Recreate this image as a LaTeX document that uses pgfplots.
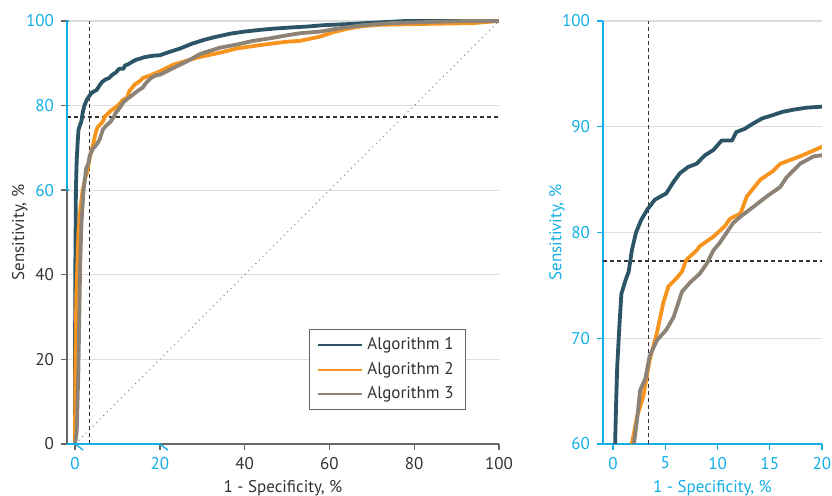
\documentclass[border=0pt]{standalone}
\usepackage{pgfplots}
\pgfplotsset{compat=1.18}
\usepackage{pgfplotstable}
\usepackage{fontspec}
\setmainfont{PT Sans}

\definecolor{algone}{HTML}{2B5466}
\definecolor{algtwo}{HTML}{F7941D}
\definecolor{algthree}{HTML}{8C8276}
\definecolor{cy}{HTML}{12AEE6}
\definecolor{txt}{HTML}{333333}
\definecolor{axgray}{HTML}{666666}
\definecolor{gridgray}{HTML}{DDDDDD}

% ROC curves: x = 1 - specificity (%), y = sensitivity (%)
\pgfplotstableread{
x y
0 0
0 20
0.05 40
0.15 52
0.2 60
0.3 64
0.4 67.3
0.6 71
0.8 74.2
1.2 75.5
1.5 76.3
1.8 78.3
2.2 80
2.7 81.2
3.3 82.2
4.0 83.1
5.1 83.7
5.8 84.8
6.4 85.6
7.2 86.2
8.0 86.5
8.8 87.3
9.6 87.8
10.4 88.7
11.4 88.7
11.8 89.5
12.6 89.8
13.4 90.3
14.3 90.8
15.3 91.1
16.2 91.4
17.2 91.6
18.5 91.8
20 91.9
22 92.6
24.8 93.5
27.5 94.6
30.3 95.5
33 96.2
36.6 97.0
40 97.5
43.6 97.9
47 98.2
51.4 98.5
55 98.7
58.5 99.0
65 99.3
70.3 99.6
78 100
100 100
}\algonetab

\pgfplotstableread{
x y
0 0
0.05 15
0.3 35
0.8 50
1.3 56
1.8 60
2.3 62.6
2.9 64.5
3.5 67.9
4.2 70.5
4.8 73.3
5.3 74.9
6.1 75.7
6.6 76.3
7.0 77.4
8.0 78.3
8.3 78.7
9.6 79.6
10.7 80.6
11.2 81.3
12.2 81.8
12.8 83.4
14.1 85.0
15.3 85.8
16.0 86.5
17.9 87.2
20 88.1
23 89.6
26.3 90.6
29 91.4
31.8 92.0
35 92.7
38.1 93.5
43.6 94.3
49.9 95.1
53 95.3
57.8 96.3
61 97.4
64.9 98.3
68 98.8
71.9 99.1
82 99.3
93.9 99.5
100 100
}\algtwotab

\pgfplotstableread{
x y
0 0
0.4 3
0.8 18
1.0 30
1.2 42
1.5 52
2.0 60
2.3 62.3
2.6 65.1
3.1 66.2
3.5 68.3
4.2 69.8
5.1 70.8
5.8 72.0
6.6 74.4
7.4 75.3
8.3 76.1
9.0 77.1
9.6 78.3
10.2 79.0
11.5 80.9
12.2 81.5
13.4 82.4
14.7 83.4
16.0 84.3
16.6 85.2
17.9 86.5
19.2 87.2
20 87.3
23 88.8
26.3 90.4
29.5 92.2
34.2 93.7
38 94.4
42 95.3
46 95.9
49.9 96.6
53 97.1
57.8 97.5
62.5 98.3
68 99.0
74.3 99.5
85 99.8
92.4 100
100 100
}\algthreetab

\pgfplotsset{
  roc/.style={
    scale only axis,
    axis lines=left,
    axis line style={-, line width=0.7pt},
    ymajorgrids,
    grid style={gridgray, line width=0.6pt},
    tick align=outside,
    major tick length=3pt,
    tick style={line width=0.7pt},
    ticklabel style={font=\fontsize{8.5}{10}\selectfont},
    label style={font=\fontsize{8.5}{10}\selectfont},
    xlabel={1 - Specificity, \%},
    ylabel={Sensitivity, \%},
    xlabel style={at={(axis description cs:0.5,-0.104)}, anchor=center},
  },
  refline/.style={txt, line width=0.6pt, dash pattern=on 2pt off 1.5pt, forget plot},
  curve/.style={line width=1.9pt, line join=round},
}

\begin{document}
\begin{tikzpicture}
\path[use as bounding box] (-33.5pt,-26pt) rectangle (382.5pt,222pt);

\begin{axis}[
  roc,
  at={(0,0)}, anchor=south west,
  width=216pt, height=211.5pt,
  xmin=-1.9, xmax=100, ymin=0, ymax=100,
  clip=false,
  axis line style={axgray},
  tick style={axgray},
  xtick={0,20,40,60,80,100},
  xticklabels={\textcolor{cy}{0},\textcolor{cy}{20},40,60,80,100},
  ytick={0,20,40,60,80,100},
  yticklabels={0,20,40,\textcolor{cy}{60},\textcolor{cy}{80},\textcolor{cy}{100}},
  ticklabel style={text=txt},
  label style={text=txt},
  ylabel style={at={(axis description cs:-0.109,0.5)}, anchor=center, rotate=0},
  legend style={at={(0.924,0.08)}, anchor=south east, draw=axgray,
    line width=0.6pt, font=\fontsize{8.5}{10}\selectfont, text=txt,
    inner xsep=4pt, inner ysep=2pt, row sep=0.6pt, fill=white},
  legend cell align=left,
  legend image code/.code={\draw[#1, line width=1pt] (0pt,0pt) -- (22pt,0pt);},
]
\addplot[gray, line width=0.5pt, dotted, forget plot] coordinates {(0,0) (100,100)};
\addplot[refline] coordinates {(3.4,0) (3.4,100)};
\addplot[refline] coordinates {(-1.9,77.3) (100,77.3)};
\addplot[algone, curve] table {\algonetab};
\addplot[algtwo, curve] table {\algtwotab};
\addplot[algthree, curve] table {\algthreetab};
\legend{Algorithm 1, Algorithm 2, Algorithm 3}
% cyan highlight of the zoomed region on the axes
\draw[cy, line width=0.8pt] (axis cs:-1.9,60) -- (axis cs:-1.9,100);
\draw[cy, line width=0.8pt] (axis cs:-1.9,0) -- (axis cs:20,0);
\draw[cy, line width=0.7pt] (axis cs:-1.9,60) -- ++(-3pt,0);
\draw[cy, line width=0.7pt] (axis cs:-1.9,80) -- ++(-3pt,0);
\draw[cy, line width=0.7pt] (axis cs:-1.9,100) -- ++(-3pt,0);
\draw[cy, line width=0.7pt] (axis cs:0,0) -- ++(0,-3pt);
\draw[cy, line width=0.7pt] (axis cs:20,0) -- ++(0,-3pt);
\end{axis}

\begin{axis}[
  roc,
  at={(268pt,0)}, anchor=south west,
  width=109.5pt, height=211.5pt,
  xmin=-0.96, xmax=20, ymin=60, ymax=100,
  axis line style={cy},
  tick style={cy},
  xtick={0,5,10,15,20},
  xticklabels={0,5,10,15,20},
  ytick={60,70,80,90,100},
  yticklabels={60,70,80,90,100},
  ticklabel style={text=cy},
  label style={text=cy},
  ylabel style={at={(axis description cs:-0.21,0.5)}, anchor=center, rotate=0},
]
\addplot[refline] coordinates {(3.4,60) (3.4,100)};
\addplot[refline] coordinates {(-0.96,77.3) (20,77.3)};
\addplot[algone, curve] table {\algonetab};
\addplot[algtwo, curve] table {\algtwotab};
\addplot[algthree, curve] table {\algthreetab};
\end{axis}
\end{tikzpicture}
\end{document}
